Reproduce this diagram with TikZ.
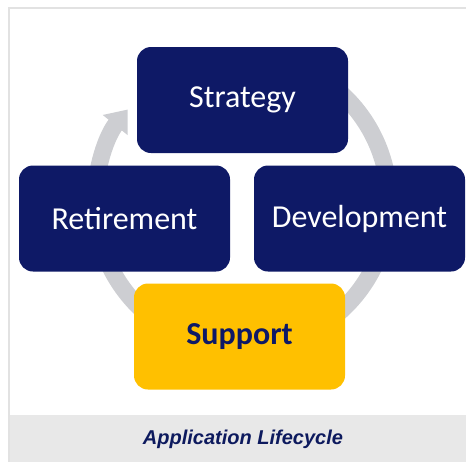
\documentclass[tikz,border=0pt]{standalone}
\usepackage{fontspec}
\setmainfont{Carlito}
\newfontfamily\capfont{Liberation Sans}
\usetikzlibrary{arrows.meta}
\definecolor{navy}{RGB}{14,25,102}
\definecolor{gold}{RGB}{255,192,0}
\definecolor{ring}{RGB}{205,206,210}
\definecolor{capbg}{RGB}{232,232,232}
\definecolor{captxt}{RGB}{13,26,94}
\definecolor{framec}{RGB}{226,226,226}
\tikzset{
  stagebox/.style={rounded corners=10.5pt, minimum width=158.25pt, minimum height=79.5pt,
    inner sep=0pt, font=\fontsize{24}{28}\selectfont},
  darkbox/.style={stagebox, fill=navy, text=white},
  goldbox/.style={stagebox, fill=gold, text=navy, font=\fontsize{24}{28}\selectfont\bfseries},
}
\begin{document}
\begin{tikzpicture}[x=0.75pt,y=-0.75pt]
\useasboundingbox (0,0) rectangle (466,461);
% frame
\draw[framec, line width=0.9pt] (9,8) rectangle (480,475);
\fill[capbg] (9.5,415) rectangle (480,475);
\node[font=\capfont\fontsize{15}{18}\selectfont\bfseries\itshape, text=captxt] (cap) at (243,439) {Application Lifecycle};
% cycle ring
\coordinate (c) at (242,202);
\draw[ring, line width=12.75pt, -{Triangle[width=23pt,length=15pt]}]
  ([shift={(60:110.25pt)}]c) arc[start angle=60, end angle=-219, radius=110.25pt];
% stages
\node[darkbox] (strategy) at (242.5,100) {Strategy};
\node[darkbox] (retirement) at (124.5,218.5) {Retirement};
\node[darkbox] (development) at (359.5,218.5) {Development};
\node[goldbox] (support) at (239.5,336.5) {Support};
\end{tikzpicture}
\end{document}
